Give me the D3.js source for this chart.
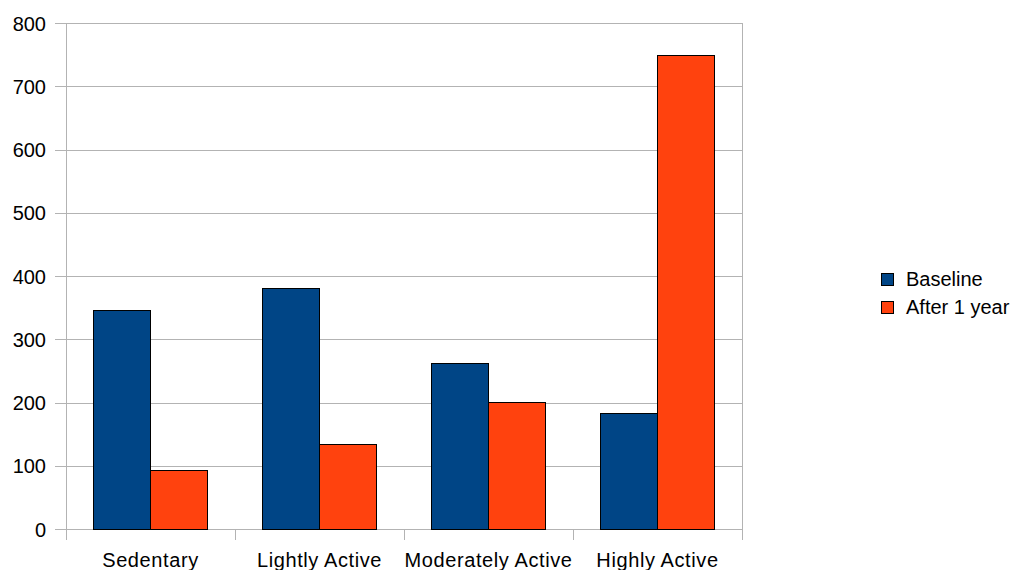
<!DOCTYPE html>
<html>
<head>
<meta charset="utf-8">
<script src="https://cdn.jsdelivr.net/npm/d3@7/dist/d3.min.js"></script>
<style>
  html, body { margin: 0; padding: 0; background: #ffffff; }
  svg { display: block; font-family: "Liberation Sans", Arial, sans-serif; }
</style>
</head>
<body>
<svg id="chart" width="1017" height="570"></svg>
<script>
// Activity level groups and the two measurement series
const categories = ["Sedentary", "Lightly Active", "Moderately Active", "Highly Active"];
const seriesNames = ["Baseline", "After 1 year"];
const baseline = [346, 381, 261, 183];
const afterOneYear = [92, 133, 200, 749];
const yTicks = [0, 100, 200, 300, 400, 500, 600, 700, 800];
const seriesColors = ["#004586", "#ff420e"];

const svg = d3.select("#chart");
const plot = { left: 66, right: 742, top: 23, bottom: 529 };
const fontSize = 20;

const x = d3.scaleBand().domain(categories).range([plot.left, plot.right]).paddingInner(0).paddingOuter(0);
const inner = d3.scaleBand().domain(seriesNames).range([0, x.bandwidth()]).paddingInner(0).paddingOuter(0.4825);
const y = d3.scaleLinear().domain([0, 800]).range([plot.bottom, plot.top]);

// Horizontal gridlines with short outward ticks on the left
const yAxis = d3.axisLeft(y).tickValues(yTicks).tickSize(-(plot.right - plot.left)).tickPadding(20).tickFormat(d3.format("d"));
const gy = svg.append("g").attr("transform", `translate(${plot.left},0)`).call(yAxis);
gy.select(".domain").remove();
gy.selectAll(".tick line").attr("stroke", "#b3b3b3").attr("x1", -11).attr("shape-rendering", "crispEdges");
gy.selectAll(".tick text").attr("fill", "#000").style("font-size", fontSize + "px").attr("dy", "0.36em");

// Plot frame (left and right edges)
svg.append("line").attr("x1", plot.left).attr("x2", plot.left).attr("y1", plot.top).attr("y2", plot.bottom + 11)
  .attr("stroke", "#b3b3b3").attr("shape-rendering", "crispEdges");
svg.append("line").attr("x1", plot.right).attr("x2", plot.right).attr("y1", plot.top).attr("y2", plot.bottom + 11)
  .attr("stroke", "#b3b3b3").attr("shape-rendering", "crispEdges");

// Category boundary ticks below the axis
const boundaries = categories.slice(1).map(c => x(c));
svg.selectAll("line.cat-tick").data(boundaries).enter().append("line")
  .attr("class", "cat-tick")
  .attr("x1", d => d).attr("x2", d => d)
  .attr("y1", plot.bottom).attr("y2", plot.bottom + 11)
  .attr("stroke", "#b3b3b3").attr("shape-rendering", "crispEdges");

// Category labels
svg.selectAll("text.cat").data(categories).enter().append("text")
  .attr("class", "cat")
  .attr("x", d => x(d) + x.bandwidth() / 2)
  .attr("y", 567)
  .attr("text-anchor", "middle")
  .style("font-size", fontSize + "px")
  .style("letter-spacing", "0.6px")
  .text(d => d);

// Grouped bars
const rows = categories.map((c, i) => ({ cat: c, values: [
  { name: seriesNames[0], value: baseline[i], color: seriesColors[0] },
  { name: seriesNames[1], value: afterOneYear[i], color: seriesColors[1] }
]}));
const groups = svg.selectAll("g.group").data(rows).enter().append("g")
  .attr("class", "group")
  .attr("transform", d => `translate(${x(d.cat)},0)`);
groups.selectAll("rect").data(d => d.values).enter().append("rect")
  .attr("x", d => inner(d.name))
  .attr("y", d => y(d.value))
  .attr("width", inner.bandwidth())
  .attr("height", d => y(0) - y(d.value))
  .attr("fill", d => d.color)
  .attr("stroke", "#000")
  .attr("stroke-width", 1)
  .attr("shape-rendering", "crispEdges");

// Legend
const legend = svg.append("g").attr("transform", "translate(881,273)");
const items = legend.selectAll("g").data(seriesNames).enter().append("g")
  .attr("transform", (d, i) => `translate(0,${i * 28})`);
items.append("rect").attr("width", 12).attr("height", 12)
  .attr("fill", (d, i) => seriesColors[i]).attr("stroke", "#000").attr("shape-rendering", "crispEdges");
items.append("text").attr("x", 25).attr("y", 13).style("font-size", fontSize + "px").text(d => d);
</script>
</body>
</html>
